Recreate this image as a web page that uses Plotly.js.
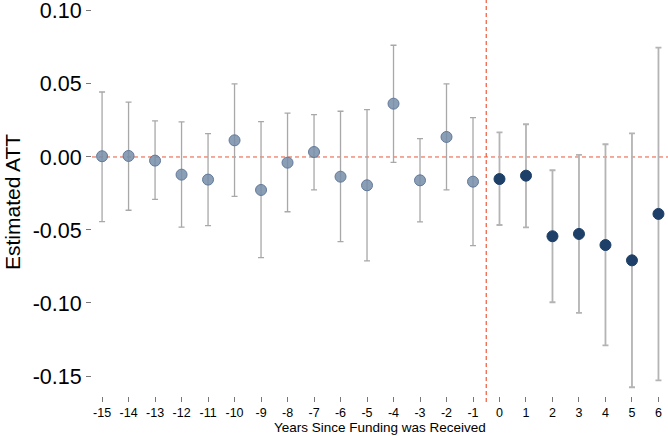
<!DOCTYPE html>
<html>
<head>
<meta charset="utf-8">
<script src="https://cdn.plot.ly/plotly-3.0.1.min.js"></script>
<style>html,body{margin:0;padding:0;background:#fff;}#chart{width:668px;height:436px;}</style>
</head>
<body>
<div id="chart"></div>
<script>
// Event time (years since funding)
const preYears = [-15,-14,-13,-12,-11,-10,-9,-8,-7,-6,-5,-4,-3,-2,-1];
const preEst   = [0.0005,0.0007,-0.0025,-0.0121,-0.0155,0.0114,-0.0226,-0.0039,0.0034,-0.0135,-0.0194,0.0365,-0.0160,0.0137,-0.0169];
const preLo    = [-0.0443,-0.0365,-0.0290,-0.0480,-0.0470,-0.0270,-0.0690,-0.0375,-0.0226,-0.0580,-0.0712,-0.0037,-0.0445,-0.0226,-0.0607];
const preHi    = [0.0445,0.0375,0.0247,0.0240,0.0160,0.0500,0.0242,0.0300,0.0290,0.0313,0.0324,0.0765,0.0126,0.0500,0.0269];

const postYears = [0,1,2,3,4,5,6];
const postEst   = [-0.0151,-0.0128,-0.0543,-0.0527,-0.0603,-0.0708,-0.0390];
const postLo    = [-0.0466,-0.0482,-0.0995,-0.1068,-0.1290,-0.1577,-0.1530];
const postHi    = [0.0169,0.0224,-0.0091,0.0014,0.0087,0.0162,0.0749];

const xTicks = [-15,-14,-13,-12,-11,-10,-9,-8,-7,-6,-5,-4,-3,-2,-1,0,1,2,3,4,5,6];
const yTicks = [-0.15,-0.10,-0.05,0.00,0.05,0.10];
const yTickText = ["-0.15","-0.10","-0.05","0.00","0.05","0.10"];

const treatStart = -0.5;

const pre = {
  x: preYears, y: preEst, type: 'scatter', mode: 'markers',
  marker: {size: 11, color: 'rgba(118,141,168,0.85)', line: {color: '#62799a', width: 1}},
  error_y: {type: 'data', symmetric: false,
    array: preHi.map((h,i)=>h-preEst[i]), arrayminus: preEst.map((e,i)=>e-preLo[i]),
    color: '#a8a8a8', thickness: 1.3, width: 3},
  hoverinfo: 'x+y', showlegend: false
};
const post = {
  x: postYears, y: postEst, type: 'scatter', mode: 'markers',
  marker: {size: 11, color: '#1d3f68', line: {color: '#1d3f68', width: 1}},
  error_y: {type: 'data', symmetric: false,
    array: postHi.map((h,i)=>h-postEst[i]), arrayminus: postEst.map((e,i)=>e-postLo[i]),
    color: '#b4b4b4', thickness: 1.8, width: 3},
  hoverinfo: 'x+y', showlegend: false
};

const layout = {
  width: 668, height: 436,
  margin: {l: 92, r: 0, t: 0, b: 40},
  paper_bgcolor: '#fff', plot_bgcolor: '#fff',
  font: {family: 'Liberation Sans, Arial, sans-serif', color: '#000'},
  xaxis: {
    range: [-15.38, 6.36], tickvals: xTicks, ticktext: xTicks.map(String),
    showgrid: false, zeroline: false, showline: false,
    ticks: 'outside', ticklen: 5, tickwidth: 1, tickcolor: '#777',
    tickfont: {size: 12.5, color: '#000'}, ticklabeloverflow: 'allow'
  },
  yaxis: {
    range: [-0.1637, 0.1075], tickvals: yTicks, ticktext: yTickText,
    showgrid: false, zeroline: false, showline: false,
    ticks: 'outside', ticklen: 5, tickwidth: 1, tickcolor: '#777',
    tickfont: {size: 21.5, color: '#000'}, ticklabeloverflow: 'allow'
  },
  shapes: [
    {type: 'line', xref: 'paper', x0: 0, x1: 1, yref: 'y', y0: 0, y1: 0,
     line: {color: '#e9553a', width: 1, dash: '4px,3px'}, layer: 'below'},
    {type: 'line', xref: 'x', x0: treatStart, x1: treatStart, yref: 'paper', y0: -0.015, y1: 1,
     line: {color: '#f05a3c', width: 1.2, dash: '4px,3px'}, layer: 'below'}
  ],
  annotations: [
    {text: 'Years Since Funding was Received', xref: 'paper', yref: 'paper',
     x: 0.5, y: 0, yshift: -31, xanchor: 'center', yanchor: 'middle', showarrow: false,
     font: {size: 13.5, color: '#000'}},
    {text: 'Estimated ATT', xref: 'paper', yref: 'paper', textangle: -90,
     x: -0.137, y: 0.49, xanchor: 'center', yanchor: 'middle', showarrow: false,
     font: {size: 21, color: '#000'}}
  ]
};

Plotly.newPlot('chart', [pre, post], layout, {displayModeBar: false, staticPlot: true});
</script>
</body>
</html>
